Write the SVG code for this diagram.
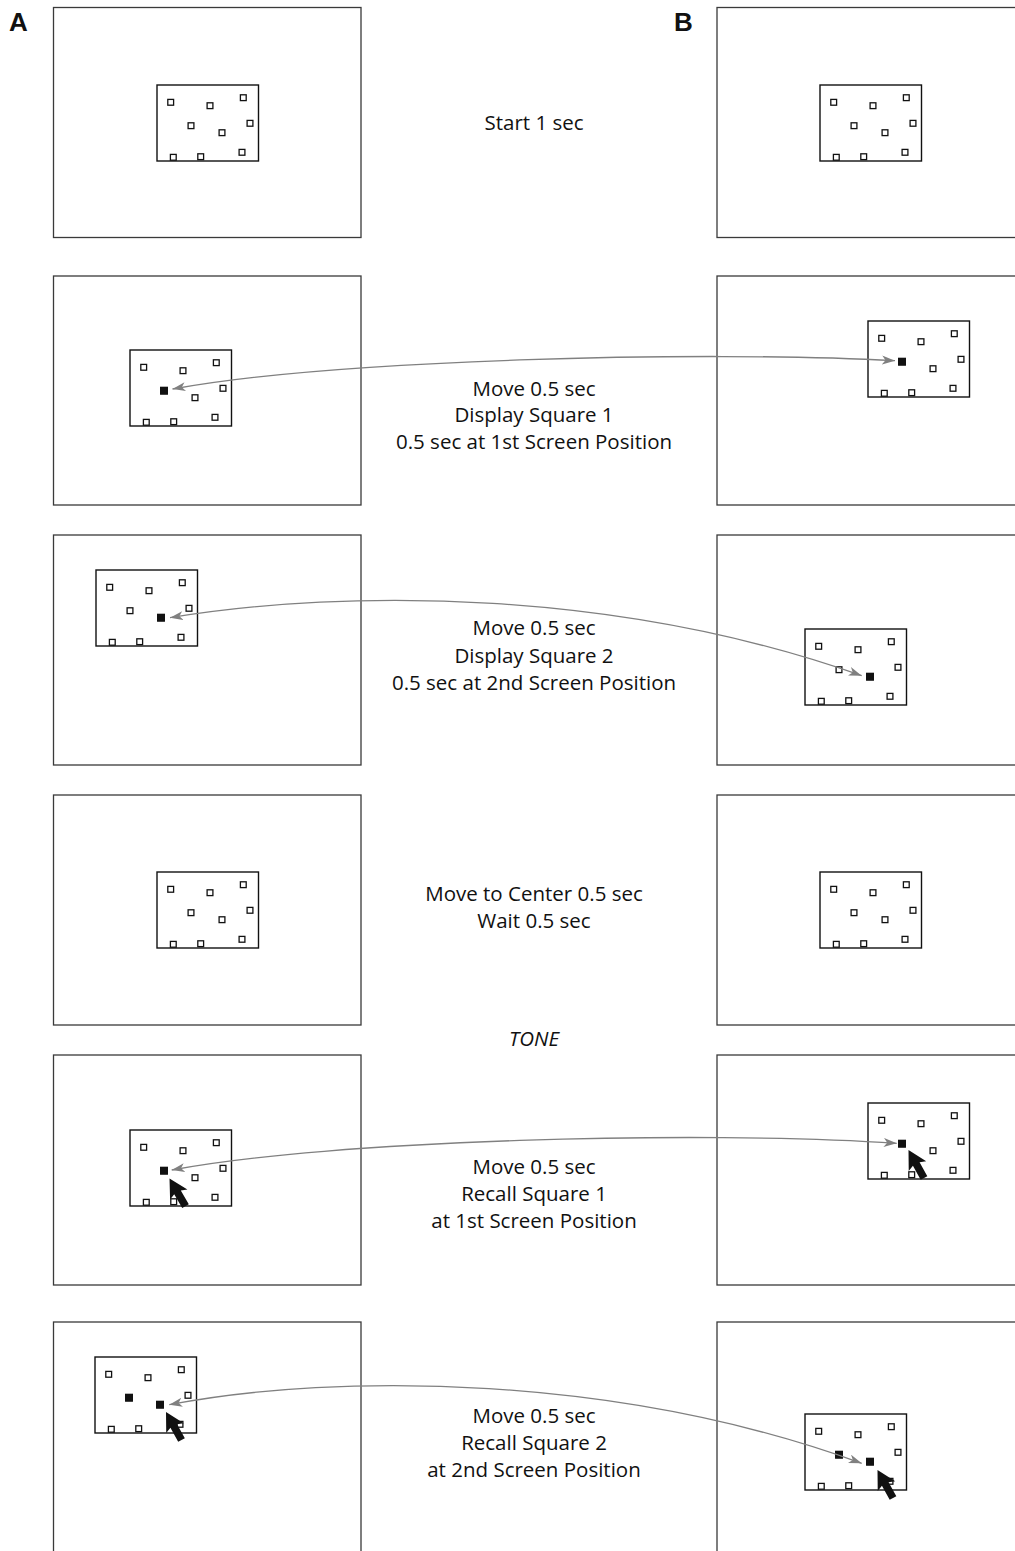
<svg xmlns="http://www.w3.org/2000/svg" xmlns:xlink="http://www.w3.org/1999/xlink" width="1015" height="1551" viewBox="0 0 1015 1551">
<style>
.frame{fill:#fff;stroke:#3a3a3a;stroke-width:1.3}
.box{fill:none;stroke:#111;stroke-width:1.4}
.hs{fill:#fff;stroke:#111;stroke-width:1.3}
.fs{fill:#111}
.lbl{font-family:"Open Sans","Liberation Sans",sans-serif;font-size:20.5px;fill:#111;text-anchor:middle}
.panel{font-family:"Liberation Sans",Arial,sans-serif;font-weight:bold;font-size:26px;fill:#111}
.conn{fill:none;stroke:#808080;stroke-width:1.3;marker-start:url(#ah);marker-end:url(#ah)}
</style>
<defs>
<marker id="ah" markerUnits="userSpaceOnUse" markerWidth="14" markerHeight="10" refX="13" refY="4.5" orient="auto-start-reverse">
<path d="M0,0 L13,4.5 L0,9 L3.5,4.5 Z" fill="#808080"/>
</marker>
<g id="sq">
<rect class="box" x="0" y="0" width="101.5" height="76"/>
<rect class="hs" x="10.8" y="14.4" width="5.8" height="5.8"/>
<rect class="hs" x="50.1" y="17.8" width="5.8" height="5.8"/>
<rect class="hs" x="83.4" y="9.8" width="5.8" height="5.8"/>
<rect class="hs" x="90.1" y="35.4" width="5.8" height="5.8"/>
<rect class="hs" x="31.1" y="37.8" width="5.8" height="5.8"/>
<rect class="hs" x="62.1" y="44.8" width="5.8" height="5.8"/>
<rect class="hs" x="13.4" y="69.4" width="5.8" height="5.8"/>
<rect class="hs" x="40.8" y="68.8" width="5.8" height="5.8"/>
<rect class="hs" x="82.1" y="64.4" width="5.8" height="5.8"/>
</g>
<path id="cur" d="M0,0 L10,18.5 L3.8,16 L3.8,32 L-3.8,32 L-3.8,16 L-10,18.5 Z" fill="#111"/>
</defs>
<rect width="1015" height="1551" fill="#fff"/>
<text class="panel" x="9" y="31">A</text>
<text class="panel" x="674" y="31">B</text>

<g id="row1">
<rect class="frame" x="53.5" y="7.5" width="307.5" height="230"/>
<rect class="frame" x="717" y="7.5" width="310" height="230"/>
<use xlink:href="#sq" x="157" y="85"/>
<use xlink:href="#sq" x="820" y="85"/>
<text class="lbl" x="534" y="130">Start 1 sec</text>
</g>

<g id="row2">
<rect class="frame" x="53.5" y="276" width="307.5" height="229"/>
<rect class="frame" x="717" y="276" width="310" height="229"/>
<use xlink:href="#sq" x="130" y="350"/>
<use xlink:href="#sq" x="868" y="321"/>
<rect class="fs" x="160" y="386.7" width="8" height="8"/>
<rect class="fs" x="898" y="357.7" width="8" height="8"/>
<text class="lbl" x="534" y="396">Move 0.5 sec</text>
<text class="lbl" x="534" y="422">Display Square 1</text>
<text class="lbl" x="534" y="449">0.5 sec at 1st Screen Position</text>
</g>

<g id="row3">
<rect class="frame" x="53.5" y="535" width="307.5" height="230"/>
<rect class="frame" x="717" y="535" width="310" height="230"/>
<use xlink:href="#sq" x="96" y="570"/>
<use xlink:href="#sq" x="805" y="629"/>
<rect class="fs" x="157" y="613.7" width="8" height="8"/>
<rect class="fs" x="866" y="672.7" width="8" height="8"/>
<text class="lbl" x="534" y="635">Move 0.5 sec</text>
<text class="lbl" x="534" y="663">Display Square 2</text>
<text class="lbl" x="534" y="690">0.5 sec at 2nd Screen Position</text>
</g>

<g id="row4">
<rect class="frame" x="53.5" y="795" width="307.5" height="230"/>
<rect class="frame" x="717" y="795" width="310" height="230"/>
<use xlink:href="#sq" x="157" y="872"/>
<use xlink:href="#sq" x="820" y="872"/>
<text class="lbl" x="534" y="901">Move to Center 0.5 sec</text>
<text class="lbl" x="534" y="928">Wait 0.5 sec</text>
</g>

<text class="lbl" x="534" y="1046" font-style="italic">TONE</text>

<g id="row5">
<rect class="frame" x="53.5" y="1055" width="307.5" height="230"/>
<rect class="frame" x="717" y="1055" width="310" height="230"/>
<use xlink:href="#sq" x="130" y="1130"/>
<use xlink:href="#sq" x="868" y="1103"/>
<rect class="fs" x="160" y="1166.7" width="8" height="8"/>
<rect class="fs" x="898" y="1139.7" width="8" height="8"/>
<use xlink:href="#cur" transform="translate(169.5,1178.5) rotate(-30)"/>
<use xlink:href="#cur" transform="translate(908.5,1150) rotate(-29)"/>
<text class="lbl" x="534" y="1174">Move 0.5 sec</text>
<text class="lbl" x="534" y="1201">Recall Square 1</text>
<text class="lbl" x="534" y="1228">at 1st Screen Position</text>
</g>

<g id="row6">
<rect class="frame" x="53.5" y="1322" width="307.5" height="240"/>
<rect class="frame" x="717" y="1322" width="310" height="240"/>
<use xlink:href="#sq" x="95" y="1357"/>
<use xlink:href="#sq" x="805" y="1414"/>
<rect class="fs" x="125" y="1393.7" width="8" height="8"/>
<rect class="fs" x="156" y="1400.7" width="8" height="8"/>
<rect class="fs" x="835" y="1450.7" width="8" height="8"/>
<rect class="fs" x="866" y="1457.7" width="8" height="8"/>
<use xlink:href="#cur" transform="translate(166,1412) rotate(-29)"/>
<use xlink:href="#cur" transform="translate(877.5,1470) rotate(-29)"/>
<text class="lbl" x="534" y="1423">Move 0.5 sec</text>
<text class="lbl" x="534" y="1450">Recall Square 2</text>
<text class="lbl" x="534" y="1477">at 2nd Screen Position</text>
</g>

<g id="connectors">
<path class="conn" d="M172.5,389 C330,360 700,350 895,360.7"/>
<path class="conn" d="M170,617.7 C350,588 620,590 861.7,675.7"/>
<path class="conn" d="M171.7,1170 C330,1140 700,1130 896.7,1143.3"/>
<path class="conn" d="M169.3,1404.7 C340,1372 620,1375 861.7,1463.3"/>
</g>
</svg>
